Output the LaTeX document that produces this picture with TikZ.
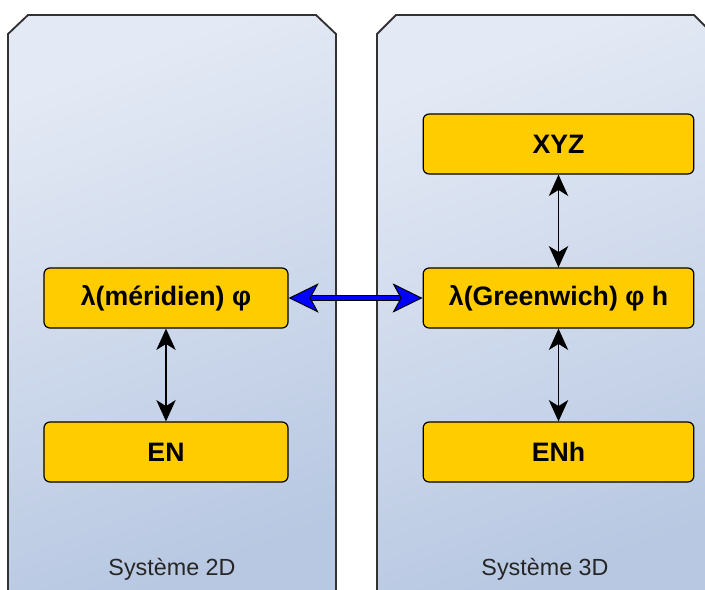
\documentclass[tikz,border=0pt]{standalone}
\usepackage{fontspec}
\setmainfont{Liberation Sans}
\usetikzlibrary{arrows.meta}

\definecolor{panelTop}{RGB}{228,234,245}
\definecolor{panelBot}{RGB}{184,200,226}
\definecolor{panelLine}{RGB}{50,50,50}
\definecolor{boxYellow}{RGB}{255,204,0}

\begin{document}
\begin{tikzpicture}[x=0.75pt, y=-0.75pt,
    panel/.style={draw=panelLine, line width=1.4pt, top color=panelTop, bottom color=panelBot, shading angle=20},
    coordbox/.style={draw=black, fill=boxYellow, rounded corners=4.5pt, line width=0.9pt, minimum height=45pt, inner sep=0pt, font=\bfseries\fontsize{20}{22}\selectfont},
    syslabel/.style={text=black!85, font=\fontsize{17.5}{20}\selectfont, anchor=base},
    link/.style={<->, >={Stealth[length=16pt, width=14.5pt, inset=4.5pt]}, line width=1.2pt},
    bluelink/.style={<->, >={Stealth[length=22.5pt, width=22pt, inset=6pt, fill=blue, color=black, line width=0.75pt]}, blue, line width=2.6pt}]

    \useasboundingbox (0,0) rectangle (705,589);

    % Panels
    \path[panel] (8,600) -- (8,34) -- (28,15) -- (316,15) -- (336,34) -- (336,600);
    \path[panel] (377,600) -- (377,34) -- (396,15) -- (694,15) -- (713,34) -- (713,600);

    % Boxes 2D
    \node[coordbox, minimum width=183pt] (merid) at (166,298) {λ(méridien) φ};
    \node[coordbox, minimum width=183pt] (en) at (166,452) {EN};

    % Boxes 3D
    \node[coordbox, minimum width=203pt] (xyz) at (558.5,144) {XYZ};
    \node[coordbox, minimum width=203pt] (green) at (558.5,298) {λ(Greenwich) φ h};
    \node[coordbox, minimum width=203pt] (enh) at (558.5,452) {ENh};

    % Arrows
    \draw[link] (merid) -- (en);
    \draw[link] (xyz) -- (green);
    \draw[link] (green) -- (enh);

    \draw[black, line width=4.9pt, shorten <=15pt, shorten >=15pt] (merid.east) -- (green.west);
    \draw[bluelink] (merid.east) -- (green.west);

    % Labels
    \node[syslabel] (lbl2d) at (172,575) {Système 2D};
    \node[syslabel] (lbl3d) at (545,575) {Système 3D};
\end{tikzpicture}
\end{document}
